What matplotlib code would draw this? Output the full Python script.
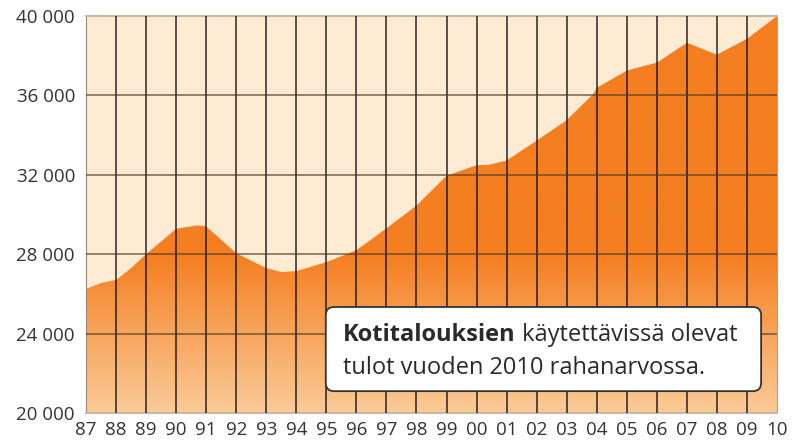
import numpy as np
import matplotlib.pyplot as plt
from matplotlib.patches import FancyBboxPatch
from matplotlib.colors import to_rgb

# vuodet (87 = 1987 ... 110 = 2010) ja tulot
vuodet = [87, 87.5, 88, 88.5, 89, 90, 90.7, 91, 92, 93, 93.5, 94, 95, 96, 97,
          98, 99, 100, 100.4, 101, 102, 103, 103.9, 104, 105, 106, 107, 108, 109, 110]
tulot = [26250, 26550, 26700, 27300, 28000, 29280, 29450, 29400, 28050, 27300, 27100, 27150,
         27600, 28200, 29300, 30450, 31950, 32480, 32500, 32720, 33720, 34750, 36100,
         36380, 37250, 37650, 38650, 38050, 38850, 40000]

y_ticks = [20000, 24000, 28000, 32000, 36000, 40000]
y_labels = ["20 000", "24 000", "28 000", "32 000", "36 000", "40 000"]
x_ticks = list(range(87, 111))
x_labels = ["%02d" % (v % 100) for v in x_ticks]

plt.rcParams['font.family'] = ['Open Sans', 'DejaVu Sans']

fig = plt.figure(figsize=(7.95, 4.42), dpi=100)
ax = fig.add_axes([86 / 795, 29 / 442, 691 / 795, 397 / 442])
ax.set_facecolor('#feebd3')
ax.set_xlim(87, 110)
ax.set_ylim(20000, 40000)

# liukuväri: tasainen oranssi yläosassa, vaalenee alaspäin 28 000:sta
dark = np.array(to_rgb('#f47e20'))
light = np.array(to_rgb('#fbcb98'))
yy = np.linspace(20000, 40000, 400)
t = np.clip((yy - 20000) / 8000, 0, 1)
grad = light[None, :] * (1 - t[:, None]) + dark[None, :] * t[:, None]
grad = np.repeat(grad[:, None, :], 2, axis=1)
img = ax.imshow(grad, extent=[87, 110, 20000, 40000], origin='lower',
                aspect='auto', zorder=1, interpolation='bilinear')
poly = ax.fill_between(vuodet, tulot, 20000, color='none', lw=0)
img.set_clip_path(poly.get_paths()[0], transform=ax.transData)

# ruudukko
for v in x_ticks[1:-1]:
    ax.axvline(v, color='#111111', lw=1.1, alpha=0.9, zorder=3)
for v in y_ticks[1:-1]:
    ax.axhline(v, color='#4a3a2a', lw=1.4, alpha=0.6, zorder=3)

for s in ['top', 'bottom']:
    ax.spines[s].set_color('#c8b8a8')
    ax.spines[s].set_linewidth(1.5)
ax.spines['left'].set_color('#9a8a7a')
ax.spines['right'].set_color('#b0a090')

ax.set_yticks(y_ticks)
ax.set_yticklabels(y_labels)
ax.set_xticks(x_ticks)
ax.set_xticklabels(x_labels)
ax.tick_params(length=0, labelsize=13.5, labelcolor='#333333')
ax.tick_params(axis='y', pad=8)
ax.tick_params(axis='x', pad=6)

# tekstilaatikko
box = FancyBboxPatch((0.347, 0.055), 0.630, 0.212, transform=ax.transAxes,
                     boxstyle='round,pad=0,rounding_size=0.012', mutation_aspect=1.74,
                     facecolor='white', edgecolor='#333333', lw=1.3, zorder=5)
ax.add_patch(box)
t1 = ax.text(0.372, 0.181, "Kotitalouksien", transform=ax.transAxes, fontsize=17,
             fontweight='bold', color='#2a2a2a', va='baseline', zorder=6)
ax.annotate(" käytettävissä olevat", xy=(1, 0), xycoords=t1, fontsize=17,
            color='#2a2a2a', va='bottom', zorder=6)
ax.text(0.372, 0.098, "tulot vuoden 2010 rahanarvossa.", transform=ax.transAxes,
        fontsize=17, color='#2a2a2a', va='baseline', zorder=6)

fig.savefig('out.png', dpi=100)
